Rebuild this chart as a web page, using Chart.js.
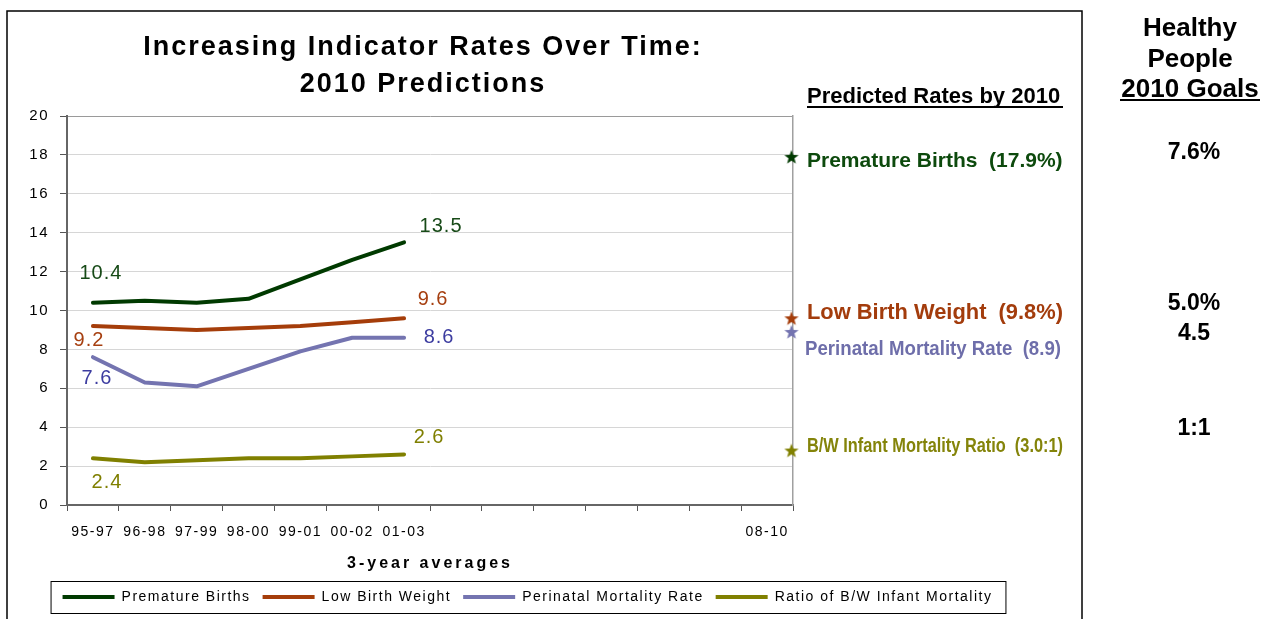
<!DOCTYPE html>
<html>
<head>
<meta charset="utf-8">
<script src="https://cdn.jsdelivr.net/npm/chart.js@4.4.1/dist/chart.umd.min.js"></script>
<style>
  html, body { margin: 0; padding: 0; background: #fff; }
  #wrap { width: 1272px; height: 619px; position: relative; }
</style>
</head>
<body>
<div id="wrap"><canvas id="rates"></canvas></div>
<script>
// data
const periods = ['95-97', '96-98', '97-99', '98-00', '99-01', '00-02', '01-03', '', '', '', '', '', '', '08-10'];
const prematureBirths = [10.4, 10.5, 10.4, 10.6, 11.6, 12.6, 13.5];
const lowBirthWeight = [9.2, 9.1, 9.0, 9.1, 9.2, 9.4, 9.6];
const perinatalMortality = [7.6, 6.3, 6.1, 7.0, 7.9, 8.6, 8.6];
const bwMortalityRatio = [2.4, 2.2, 2.3, 2.4, 2.4, 2.5, 2.6];
const seriesNames = ['Premature Births', 'Low Birth Weight', 'Perinatal Mortality Rate', 'Ratio of B/W Infant Mortality'];

// 2010 predictions (stars) and their text
const predicted2010 = [17.9, 9.6, 8.9, 2.8];
const predictedText = ['Premature Births  (17.9%)', 'Low Birth Weight  (9.8%)', 'Perinatal Mortality Rate  (8.9)', 'B/W Infant Mortality Ratio  (3.0:1)'];
const goals2010 = ['7.6%', '5.0%', '4.5', '1:1'];

const lineColors = ['#003a00', '#a53d0a', '#7474b0', '#808000'];
const labelColors = ['#174a17', '#a63f10', '#3c3ca0', '#7f7f00'];
const textColors = ['#0d4a0d', '#a33c0c', '#6e6eaa', '#84840a'];
const FONT = '"Liberation Sans", Arial, sans-serif';

// where the first / last value labels sit relative to their point
const labelOffsets = [
  { first: [8, -29], last: [37, -16] },
  { first: [-4, 14], last: [29, -19] },
  { first: [4, 21], last: [35, 0] },
  { first: [14, 24], last: [25, -17] }
];

function makeStar(color) {
  const c = document.createElement('canvas');
  c.width = 16; c.height = 16;
  const g = c.getContext('2d');
  g.fillStyle = color;
  g.beginPath();
  for (let i = 0; i < 10; i++) {
    const r = i % 2 === 0 ? 7.5 : 3.1;
    const a = -Math.PI / 2 + i * Math.PI / 5;
    g.lineTo(8 + r * Math.cos(a), 8.6 + r * Math.sin(a));
  }
  g.closePath();
  g.fill();
  return c;
}

function spaced(ctx, text, x, y, font, color, spacing, align, maxWidth) {
  ctx.save();
  ctx.font = font;
  ctx.fillStyle = color;
  ctx.letterSpacing = spacing + 'px';
  ctx.textAlign = align || 'left';
  ctx.textBaseline = 'alphabetic';
  if (maxWidth) ctx.fillText(text, x, y, maxWidth); else ctx.fillText(text, x, y);
  ctx.restore();
}

const spacingPlugin = {
  id: 'spacing',
  beforeLayout(chart) { chart.ctx.letterSpacing = '1.5px'; },
  beforeDraw(chart) {
    chart.ctx.letterSpacing = '1.5px';
    const xs = chart.scales.x;
    if (!xs.__spaced) {
      const dt = xs.drawTitle;
      xs.drawTitle = function () {
        this.ctx.save();
        this.ctx.letterSpacing = '3px';
        dt.call(this);
        this.ctx.restore();
      };
      xs.__spaced = true;
    }
  }
};

const labelsPlugin = {
  id: 'valueLabels',
  afterDatasetsDraw(chart) {
    const ctx = chart.ctx;
    labelOffsets.forEach((off, di) => {
      const meta = chart.getDatasetMeta(di);
      const vals = chart.data.datasets[di].data;
      const ends = [[0, off.first], [vals.length - 1, off.last]];
      ends.forEach(([i, o]) => {
        const p = meta.data[i];
        ctx.save();
        ctx.font = '20px ' + FONT;
        ctx.letterSpacing = '1px';
        ctx.fillStyle = labelColors[di];
        ctx.textAlign = 'center';
        ctx.textBaseline = 'middle';
        ctx.fillText(vals[i].toFixed(1), p.x + o[0], p.y + o[1]);
        ctx.restore();
      });
    });
  }
};

const extrasPlugin = {
  id: 'extras',
  afterDraw(chart) {
    const ctx = chart.ctx;
    // frame
    ctx.save();
    ctx.strokeStyle = '#000';
    ctx.lineWidth = 1.5;
    ctx.strokeRect(7, 11, 1075, 640);
    ctx.restore();

    // title
    spaced(ctx, 'Increasing Indicator Rates Over Time:', 423, 55, 'bold 27px ' + FONT, '#000', 2, 'center');
    spaced(ctx, '2010 Predictions', 423, 92, 'bold 27px ' + FONT, '#000', 2, 'center');

    // legend frame
    const hb = chart.legend.legendHitBoxes;
    if (hb && hb.length) {
      const l = hb[0].left - 12, r = hb[hb.length - 1].left + hb[hb.length - 1].width + 13;
      const cy = hb[0].top + hb[0].height / 2;
      ctx.save();
      ctx.strokeStyle = '#000';
      ctx.lineWidth = 1;
      ctx.strokeRect(l + 0.5, cy - 16 + 0.5, r - l, 32);
      ctx.restore();
    }

    // predicted rates column
    spaced(ctx, 'Predicted Rates by 2010', 807, 103, 'bold 22px ' + FONT, '#000', 0, 'left', 256);
    ctx.save();
    ctx.fillStyle = '#000';
    ctx.fillRect(807, 106, 256, 2);
    ctx.restore();
    const predY = [167, 319, 355, 452];
    const predX = [807, 807, 805, 807];
    const predSize = [21, 22, 21, 20];
    predictedText.forEach((t, i) => {
      spaced(ctx, t, predX[i], predY[i], 'bold ' + predSize[i] + 'px ' + FONT, textColors[i], 0, 'left', 256);
    });

    // Healthy People goals column
    spaced(ctx, 'Healthy', 1190, 36, 'bold 26px ' + FONT, '#000', 0, 'center');
    spaced(ctx, 'People', 1190, 67, 'bold 26px ' + FONT, '#000', 0, 'center');
    spaced(ctx, '2010 Goals', 1190, 97, 'bold 26px ' + FONT, '#000', 0, 'center');
    ctx.save();
    ctx.fillStyle = '#000';
    ctx.fillRect(1120, 99, 140, 2);
    ctx.restore();
    const goalY = [159, 310, 340, 435];
    goals2010.forEach((g, i) => spaced(ctx, g, 1194, goalY[i], 'bold 23px ' + FONT, '#000', 0, 'center'));
  }
};

const stars = predicted2010.map(v => ({ x: 13.47, y: v }));

new Chart(document.getElementById('rates'), {
  type: 'line',
  data: {
    labels: periods,
    datasets: [
      { label: seriesNames[0], data: prematureBirths },
      { label: seriesNames[1], data: lowBirthWeight },
      { label: seriesNames[2], data: perinatalMortality },
      { label: seriesNames[3], data: bwMortalityRatio },
      {
        label: 'Predicted 2010',
        data: stars,
        xAxisID: 'xs',
        showLine: false,
        clip: false,
        pointStyle: lineColors.map(makeStar),
        pointRadius: 8
      }
    ].map((d, i) => Object.assign({
      borderColor: lineColors[i],
      backgroundColor: lineColors[i],
      borderWidth: 4,
      borderCapStyle: 'round',
      borderJoinStyle: 'round',
      pointRadius: 0,
      tension: 0
    }, d))
  },
  options: {
    responsive: true,
    maintainAspectRatio: false,
    devicePixelRatio: 1,
    animation: false,
    layout: { padding: { left: 27, right: 244, top: 116, bottom: 5 } },
    plugins: {
      title: { display: false },
      tooltip: { enabled: false },
      legend: {
        position: 'bottom',
        align: 'center',
        labels: {
          filter: item => item.datasetIndex < 4,
          usePointStyle: true,
          pointStyle: 'line',
          pointStyleWidth: 52,
          boxHeight: 4,
          padding: 12,
          color: '#000',
          font: { family: FONT, size: 14 }
        }
      }
    },
    scales: {
      x: {
        type: 'category',
        offset: true,
        afterFit: s => { s.height = 73; },
        grid: { offset: true, drawOnChartArea: false, drawTicks: true, tickLength: 6, tickColor: '#555' },
        border: { color: '#666', width: 2 },
        ticks: { autoSkip: false, maxRotation: 0, padding: 13, color: '#000', font: { family: FONT, size: 14 } },
        title: { display: true, text: '3-year averages', color: '#000', padding: { top: 0, bottom: 5 }, font: { family: FONT, size: 16, weight: 'bold' } }
      },
      xs: { type: 'linear', display: false, min: -0.5, max: 13.5 },
      y: {
        min: 0,
        max: 20,
        afterFit: s => { s.width = 40; },
        ticks: { stepSize: 2, padding: 11, color: '#000', font: { family: FONT, size: 15 } },
        grid: {
          color: ctx => (ctx.tick && ctx.tick.value === 20 ? '#9a9a9a' : '#d6d6d6'),
          tickLength: 7,
          tickColor: '#555'
        },
        border: { color: '#666', width: 2 }
      },
      y2: {
        position: 'right',
        min: 0,
        max: 20,
        afterFit: s => { s.width = 235; },
        grid: { display: false },
        ticks: { display: false },
        border: { color: '#a0a0a0', width: 1.5 }
      }
    }
  },
  plugins: [spacingPlugin, labelsPlugin, extrasPlugin]
});
</script>
</body>
</html>
